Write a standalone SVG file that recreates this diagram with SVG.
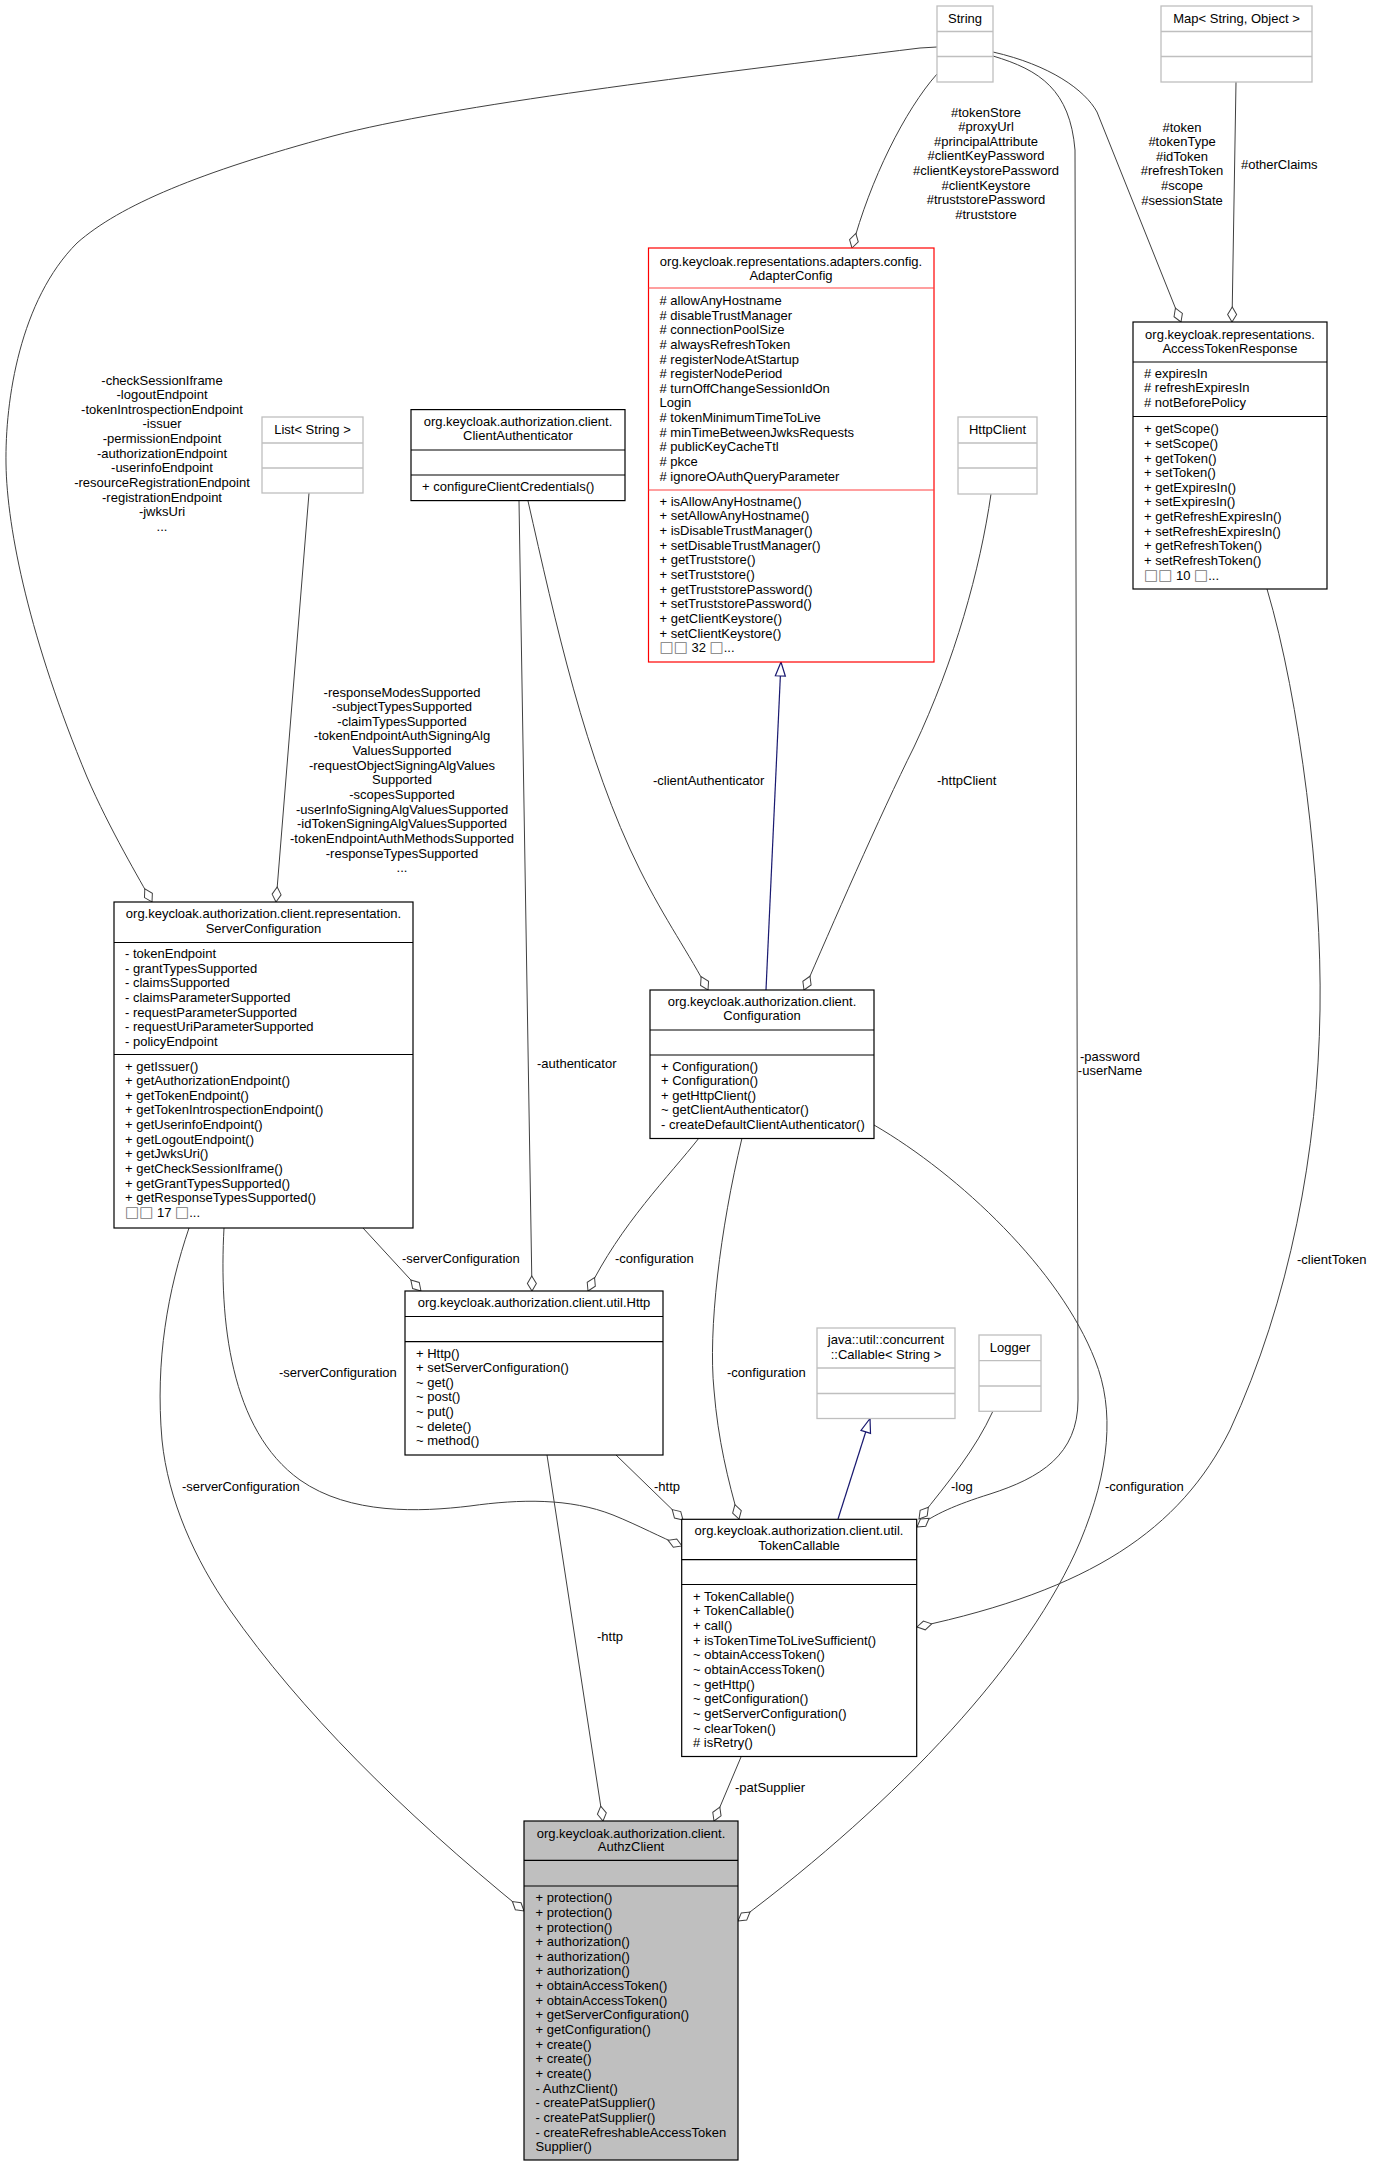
<svg xmlns="http://www.w3.org/2000/svg" width="1374" height="2167" viewBox="0 0 1374 2167">
<style>
.t{font-family:"Liberation Sans",Arial,Helvetica,sans-serif;font-size:13px;fill:#000}
.c{text-anchor:middle}
.tf{font-family:"DejaVu Sans",sans-serif;font-size:15px;fill:#777}
.box{fill:#fff;stroke:#000;stroke-width:1.2}
.gbox{fill:#fff;stroke:#bfbfbf;stroke-width:1.3}
.rbox{fill:#fff;stroke:#ff0000;stroke-width:1.2}
.abox{fill:#bfbfbf;stroke:#000;stroke-width:1.2}
.sk{stroke:#000;stroke-width:1.2}
.sg{stroke:#bfbfbf;stroke-width:1.3}
.sr{stroke:#ff4040;stroke-width:1.2}
.e{fill:none;stroke:#404040;stroke-width:1;marker-end:url(#dia)}
.g{fill:none;stroke:#191970;stroke-width:1.2;marker-end:url(#tri)}
</style>
<defs>
<marker id="dia" viewBox="-16 -6 17 12" refX="0" refY="0" markerWidth="17" markerHeight="12" orient="auto" markerUnits="userSpaceOnUse" overflow="visible"><path d="M0,0 L-7.5,-4.5 L-15,0 L-7.5,4.5 Z" fill="#fff" stroke="#404040" stroke-width="1"/></marker>
<marker id="tri" viewBox="-16 -7 17 14" refX="0" refY="0" markerWidth="17" markerHeight="14" orient="auto" markerUnits="userSpaceOnUse" overflow="visible"><path d="M0,0 L-14,-5 L-14,5 Z" fill="#fff" stroke="#191970" stroke-width="1.2"/></marker>
</defs>
<rect width="1374" height="2167" fill="#fff"/>

<g id="connectors">
<path class="e" d="M937,47 L920,48 C700,75 450,105 333,136 C200,172 120,205 77,243 C20,300 5,400 6,464 C7,530 30,640 87,777 C110,830 140,880 152,902"/>
<path class="e" d="M937,74 C905,110 870,180 852,248"/>
<path class="e" d="M993,52 C1050,65 1085,90 1097,112 L1181,322"/>
<path class="e" d="M993,56 C1040,70 1070,90 1075,150 L1078,1400 C1078,1455 1040,1478 990,1494 C955,1505 935,1514 917,1527"/>
<path class="e" d="M1236,82 L1232,322"/>
<path class="e" d="M991,494 C980,570 955,660 914,747 C880,815 830,930 804,990"/>
<path class="e" d="M528,501 C555,620 585,760 640,870 C665,920 690,955 708,990"/>
<path class="g" d="M766,990 L781,662"/>
<path class="e" d="M519,501 L532,1291"/>
<path class="e" d="M309,493 L276,902"/>
<path class="e" d="M363,1228 L421,1291"/>
<path class="e" d="M699,1138 C670,1175 620,1225 588,1291"/>
<path class="e" d="M742,1138 C720,1230 708,1330 714,1390 C718,1440 728,1480 739,1519"/>
<path class="e" d="M616,1455 L683,1520"/>
<path class="e" d="M224,1228 C219,1320 230,1430 300,1480 C350,1515 420,1512 470,1506 C520,1499 570,1498 613,1515 C640,1526 660,1537 682,1546"/>
<path class="e" d="M189,1228 C168,1290 155,1360 162,1440 C168,1500 195,1560 230,1610 C300,1710 400,1810 524,1911"/>
<path class="e" d="M547,1455 L603,1821"/>
<path class="e" d="M741,1757 L714,1821"/>
<path class="e" d="M874,1125 C960,1175 1060,1270 1095,1360 C1115,1410 1110,1470 1080,1542 C1030,1660 900,1800 738,1921"/>
<path class="e" d="M1267,589 C1300,700 1322,880 1320,1010 C1318,1150 1290,1300 1230,1430 C1180,1530 1090,1590 917,1627"/>
<path class="e" d="M993,1411 C975,1450 950,1480 919,1519"/>
<path class="g" d="M838,1519 L870,1418.5"/>

<text class="t c"><tspan x="162" y="384.5">-checkSessionIframe</tspan><tspan x="162" dy="14.65">-logoutEndpoint</tspan><tspan x="162" dy="14.65">-tokenIntrospectionEndpoint</tspan><tspan x="162" dy="14.65">-issuer</tspan><tspan x="162" dy="14.65">-permissionEndpoint</tspan><tspan x="162" dy="14.65">-authorizationEndpoint</tspan><tspan x="162" dy="14.65">-userinfoEndpoint</tspan><tspan x="162" dy="14.65">-resourceRegistrationEndpoint</tspan><tspan x="162" dy="14.65">-registrationEndpoint</tspan><tspan x="162" dy="14.65">-jwksUri</tspan><tspan x="162" dy="14.65">...</tspan></text>
<text class="t c"><tspan x="986" y="116.5">#tokenStore</tspan><tspan x="986" dy="14.65">#proxyUrl</tspan><tspan x="986" dy="14.65">#principalAttribute</tspan><tspan x="986" dy="14.65">#clientKeyPassword</tspan><tspan x="986" dy="14.65">#clientKeystorePassword</tspan><tspan x="986" dy="14.65">#clientKeystore</tspan><tspan x="986" dy="14.65">#truststorePassword</tspan><tspan x="986" dy="14.65">#truststore</tspan></text>
<text class="t c"><tspan x="1182" y="131.5">#token</tspan><tspan x="1182" dy="14.65">#tokenType</tspan><tspan x="1182" dy="14.65">#idToken</tspan><tspan x="1182" dy="14.65">#refreshToken</tspan><tspan x="1182" dy="14.65">#scope</tspan><tspan x="1182" dy="14.65">#sessionState</tspan></text>
<text class="t" x="1241" y="169">#otherClaims</text>
<text class="t c"><tspan x="402" y="696.5">-responseModesSupported</tspan><tspan x="402" dy="14.65">-subjectTypesSupported</tspan><tspan x="402" dy="14.65">-claimTypesSupported</tspan><tspan x="402" dy="14.65">-tokenEndpointAuthSigningAlg</tspan><tspan x="402" dy="14.65">ValuesSupported</tspan><tspan x="402" dy="14.65">-requestObjectSigningAlgValues</tspan><tspan x="402" dy="14.65">Supported</tspan><tspan x="402" dy="14.65">-scopesSupported</tspan><tspan x="402" dy="14.65">-userInfoSigningAlgValuesSupported</tspan><tspan x="402" dy="14.65">-idTokenSigningAlgValuesSupported</tspan><tspan x="402" dy="14.65">-tokenEndpointAuthMethodsSupported</tspan><tspan x="402" dy="14.65">-responseTypesSupported</tspan><tspan x="402" dy="14.65">...</tspan></text>
<text class="t" x="653" y="784.5">-clientAuthenticator</text>
<text class="t" x="937" y="784.5">-httpClient</text>
<text class="t" x="537" y="1068">-authenticator</text>
<text class="t c"><tspan x="1110" y="1061">-password</tspan><tspan x="1110" dy="14">-userName</tspan></text>
<text class="t" x="402" y="1263">-serverConfiguration</text>
<text class="t" x="615" y="1263">-configuration</text>
<text class="t" x="1297" y="1263.5">-clientToken</text>
<text class="t" x="279" y="1377">-serverConfiguration</text>
<text class="t" x="727" y="1377">-configuration</text>
<text class="t" x="182" y="1491">-serverConfiguration</text>
<text class="t" x="654" y="1491">-http</text>
<text class="t" x="951" y="1491">-log</text>
<text class="t" x="1105" y="1491">-configuration</text>
<text class="t" x="597" y="1641">-http</text>
<text class="t" x="735" y="1791.5">-patSupplier</text>
</g>

<g id="node-string">
<rect class="gbox" x="937" y="6" width="56" height="76"/>
<line class="sg" x1="937" y1="31.5" x2="993" y2="31.5"/><line class="sg" x1="937" y1="56.5" x2="993" y2="56.5"/>
<text class="t c" x="965" y="22.5">String</text>
</g>

<g id="node-map">
<rect class="gbox" x="1161" y="6" width="151" height="76"/>
<line class="sg" x1="1161" y1="31.5" x2="1312" y2="31.5"/><line class="sg" x1="1161" y1="56.5" x2="1312" y2="56.5"/>
<text class="t c" x="1236.5" y="22.5">Map&lt; String, Object &gt;</text>
</g>

<g id="node-accesstokenresponse">
<rect class="box" x="1133" y="322" width="194" height="267"/>
<line class="sk" x1="1133" y1="362" x2="1327" y2="362"/><line class="sk" x1="1133" y1="416.5" x2="1327" y2="416.5"/>
<text class="t c"><tspan x="1230" y="338.5">org.keycloak.representations.</tspan><tspan x="1230" dy="14">AccessTokenResponse</tspan></text>
<text class="t"><tspan x="1144" y="377.5"># expiresIn</tspan><tspan x="1144" dy="14.65"># refreshExpiresIn</tspan><tspan x="1144" dy="14.65"># notBeforePolicy</tspan></text>
<text class="t"><tspan x="1144" y="433.2">+ getScope()</tspan><tspan x="1144" dy="14.65">+ setScope()</tspan><tspan x="1144" dy="14.65">+ getToken()</tspan><tspan x="1144" dy="14.65">+ setToken()</tspan><tspan x="1144" dy="14.65">+ getExpiresIn()</tspan><tspan x="1144" dy="14.65">+ setExpiresIn()</tspan><tspan x="1144" dy="14.65">+ getRefreshExpiresIn()</tspan><tspan x="1144" dy="14.65">+ setRefreshExpiresIn()</tspan><tspan x="1144" dy="14.65">+ getRefreshToken()</tspan><tspan x="1144" dy="14.65">+ setRefreshToken()</tspan><tspan x="1144" dy="14.65"><tspan class="tf">□□</tspan> 10 <tspan class="tf">□</tspan>...</tspan></text>
</g>

<g id="node-adapterconfig">
<rect class="rbox" x="648.5" y="248" width="285.5" height="414"/>
<line class="sr" x1="648.5" y1="288" x2="934" y2="288"/><line class="sr" x1="648.5" y1="490" x2="934" y2="490"/>
<text class="t c"><tspan x="791" y="265.5">org.keycloak.representations.adapters.config.</tspan><tspan x="791" dy="14">AdapterConfig</tspan></text>
<text class="t"><tspan x="659.5" y="304.9"># allowAnyHostname</tspan><tspan x="659.5" dy="14.65"># disableTrustManager</tspan><tspan x="659.5" dy="14.65"># connectionPoolSize</tspan><tspan x="659.5" dy="14.65"># alwaysRefreshToken</tspan><tspan x="659.5" dy="14.65"># registerNodeAtStartup</tspan><tspan x="659.5" dy="14.65"># registerNodePeriod</tspan><tspan x="659.5" dy="14.65"># turnOffChangeSessionIdOn</tspan><tspan x="659.5" dy="14.65">Login</tspan><tspan x="659.5" dy="14.65"># tokenMinimumTimeToLive</tspan><tspan x="659.5" dy="14.65"># minTimeBetweenJwksRequests</tspan><tspan x="659.5" dy="14.65"># publicKeyCacheTtl</tspan><tspan x="659.5" dy="14.65"># pkce</tspan><tspan x="659.5" dy="14.65"># ignoreOAuthQueryParameter</tspan></text>
<text class="t"><tspan x="659.5" y="505.7">+ isAllowAnyHostname()</tspan><tspan x="659.5" dy="14.65">+ setAllowAnyHostname()</tspan><tspan x="659.5" dy="14.65">+ isDisableTrustManager()</tspan><tspan x="659.5" dy="14.65">+ setDisableTrustManager()</tspan><tspan x="659.5" dy="14.65">+ getTruststore()</tspan><tspan x="659.5" dy="14.65">+ setTruststore()</tspan><tspan x="659.5" dy="14.65">+ getTruststorePassword()</tspan><tspan x="659.5" dy="14.65">+ setTruststorePassword()</tspan><tspan x="659.5" dy="14.65">+ getClientKeystore()</tspan><tspan x="659.5" dy="14.65">+ setClientKeystore()</tspan><tspan x="659.5" dy="14.65"><tspan class="tf">□□</tspan> 32 <tspan class="tf">□</tspan>...</tspan></text>
</g>

<g id="node-clientauthenticator">
<rect class="box" x="411" y="409.6" width="214" height="91"/>
<line class="sk" x1="411" y1="450" x2="625" y2="450"/><line class="sk" x1="411" y1="475" x2="625" y2="475"/>
<text class="t c"><tspan x="518" y="425.5">org.keycloak.authorization.client.</tspan><tspan x="518" dy="14.5">ClientAuthenticator</tspan></text>
<text class="t" x="422" y="490.5">+ configureClientCredentials()</text>
</g>

<g id="node-httpclient">
<rect class="gbox" x="958" y="417" width="79" height="77"/>
<line class="sg" x1="958" y1="443" x2="1037" y2="443"/><line class="sg" x1="958" y1="468" x2="1037" y2="468"/>
<text class="t c" x="997.5" y="434">HttpClient</text>
</g>

<g id="node-liststring">
<rect class="gbox" x="262" y="417" width="101" height="76"/>
<line class="sg" x1="262" y1="443" x2="363" y2="443"/><line class="sg" x1="262" y1="468" x2="363" y2="468"/>
<text class="t c" x="312.5" y="434">List&lt; String &gt;</text>
</g>

<g id="node-serverconfiguration">
<rect class="box" x="114" y="902" width="299" height="326"/>
<line class="sk" x1="114" y1="942.5" x2="413" y2="942.5"/><line class="sk" x1="114" y1="1054.5" x2="413" y2="1054.5"/>
<text class="t c"><tspan x="263.5" y="918">org.keycloak.authorization.client.representation.</tspan><tspan x="263.5" dy="15">ServerConfiguration</tspan></text>
<text class="t"><tspan x="125" y="957.9">- tokenEndpoint</tspan><tspan x="125" dy="14.65">- grantTypesSupported</tspan><tspan x="125" dy="14.65">- claimsSupported</tspan><tspan x="125" dy="14.65">- claimsParameterSupported</tspan><tspan x="125" dy="14.65">- requestParameterSupported</tspan><tspan x="125" dy="14.65">- requestUriParameterSupported</tspan><tspan x="125" dy="14.65">- policyEndpoint</tspan></text>
<text class="t"><tspan x="125" y="1070.5">+ getIssuer()</tspan><tspan x="125" dy="14.65">+ getAuthorizationEndpoint()</tspan><tspan x="125" dy="14.65">+ getTokenEndpoint()</tspan><tspan x="125" dy="14.65">+ getTokenIntrospectionEndpoint()</tspan><tspan x="125" dy="14.65">+ getUserinfoEndpoint()</tspan><tspan x="125" dy="14.65">+ getLogoutEndpoint()</tspan><tspan x="125" dy="14.65">+ getJwksUri()</tspan><tspan x="125" dy="14.65">+ getCheckSessionIframe()</tspan><tspan x="125" dy="14.65">+ getGrantTypesSupported()</tspan><tspan x="125" dy="14.65">+ getResponseTypesSupported()</tspan><tspan x="125" dy="14.65"><tspan class="tf">□□</tspan> 17 <tspan class="tf">□</tspan>...</tspan></text>
</g>

<g id="node-configuration">
<rect class="box" x="650" y="990" width="224" height="148.5"/>
<line class="sk" x1="650" y1="1030" x2="874" y2="1030"/><line class="sk" x1="650" y1="1055" x2="874" y2="1055"/>
<text class="t c"><tspan x="762" y="1005.5">org.keycloak.authorization.client.</tspan><tspan x="762" dy="14.5">Configuration</tspan></text>
<text class="t"><tspan x="661" y="1070.5">+ Configuration()</tspan><tspan x="661" dy="14.65">+ Configuration()</tspan><tspan x="661" dy="14.65">+ getHttpClient()</tspan><tspan x="661" dy="14.65">~ getClientAuthenticator()</tspan><tspan x="661" dy="14.65">- createDefaultClientAuthenticator()</tspan></text>
</g>

<g id="node-http">
<rect class="box" x="405" y="1291" width="258" height="164"/>
<line class="sk" x1="405" y1="1316.5" x2="663" y2="1316.5"/><line class="sk" x1="405" y1="1341.7" x2="663" y2="1341.7"/>
<text class="t c" x="534" y="1307">org.keycloak.authorization.client.util.Http</text>
<text class="t"><tspan x="416" y="1357.5">+ Http()</tspan><tspan x="416" dy="14.65">+ setServerConfiguration()</tspan><tspan x="416" dy="14.65">~ get()</tspan><tspan x="416" dy="14.65">~ post()</tspan><tspan x="416" dy="14.65">~ put()</tspan><tspan x="416" dy="14.65">~ delete()</tspan><tspan x="416" dy="14.65">~ method()</tspan></text>
</g>

<g id="node-callable">
<rect class="gbox" x="817" y="1328" width="138" height="90.5"/>
<line class="sg" x1="817" y1="1368" x2="955" y2="1368"/><line class="sg" x1="817" y1="1393.5" x2="955" y2="1393.5"/>
<text class="t c"><tspan x="886" y="1344">java::util::concurrent</tspan><tspan x="886" dy="15">::Callable&lt; String &gt;</tspan></text>
</g>

<g id="node-logger">
<rect class="gbox" x="979" y="1335" width="62" height="76.3"/>
<line class="sg" x1="979" y1="1360.7" x2="1041" y2="1360.7"/><line class="sg" x1="979" y1="1386" x2="1041" y2="1386"/>
<text class="t c" x="1010" y="1352">Logger</text>
</g>

<g id="node-tokencallable">
<rect class="box" x="681.7" y="1519.3" width="235" height="237.2"/>
<line class="sk" x1="681.7" y1="1559.6" x2="916.7" y2="1559.6"/><line class="sk" x1="681.7" y1="1584.5" x2="916.7" y2="1584.5"/>
<text class="t c"><tspan x="799" y="1535">org.keycloak.authorization.client.util.</tspan><tspan x="799" dy="14.5">TokenCallable</tspan></text>
<text class="t"><tspan x="693" y="1600.7">+ TokenCallable()</tspan><tspan x="693" dy="14.65">+ TokenCallable()</tspan><tspan x="693" dy="14.65">+ call()</tspan><tspan x="693" dy="14.65">+ isTokenTimeToLiveSufficient()</tspan><tspan x="693" dy="14.65">~ obtainAccessToken()</tspan><tspan x="693" dy="14.65">~ obtainAccessToken()</tspan><tspan x="693" dy="14.65">~ getHttp()</tspan><tspan x="693" dy="14.65">~ getConfiguration()</tspan><tspan x="693" dy="14.65">~ getServerConfiguration()</tspan><tspan x="693" dy="14.65">~ clearToken()</tspan><tspan x="693" dy="14.65"># isRetry()</tspan></text>
</g>

<g id="node-authzclient">
<rect class="abox" x="524" y="1821" width="214" height="339"/>
<line class="sk" x1="524" y1="1860.3" x2="738" y2="1860.3"/><line class="sk" x1="524" y1="1886" x2="738" y2="1886"/>
<text class="t c"><tspan x="631" y="1837.8">org.keycloak.authorization.client.</tspan><tspan x="631" dy="13.4">AuthzClient</tspan></text>
<text class="t"><tspan x="535.5" y="1902.2">+ protection()</tspan><tspan x="535.5" dy="14.65">+ protection()</tspan><tspan x="535.5" dy="14.65">+ protection()</tspan><tspan x="535.5" dy="14.65">+ authorization()</tspan><tspan x="535.5" dy="14.65">+ authorization()</tspan><tspan x="535.5" dy="14.65">+ authorization()</tspan><tspan x="535.5" dy="14.65">+ obtainAccessToken()</tspan><tspan x="535.5" dy="14.65">+ obtainAccessToken()</tspan><tspan x="535.5" dy="14.65">+ getServerConfiguration()</tspan><tspan x="535.5" dy="14.65">+ getConfiguration()</tspan><tspan x="535.5" dy="14.65">+ create()</tspan><tspan x="535.5" dy="14.65">+ create()</tspan><tspan x="535.5" dy="14.65">+ create()</tspan><tspan x="535.5" dy="14.65">- AuthzClient()</tspan><tspan x="535.5" dy="14.65">- createPatSupplier()</tspan><tspan x="535.5" dy="14.65">- createPatSupplier()</tspan><tspan x="535.5" dy="14.65">- createRefreshableAccessToken</tspan><tspan x="535.5" dy="14.65">Supplier()</tspan></text>
</g>
</svg>
